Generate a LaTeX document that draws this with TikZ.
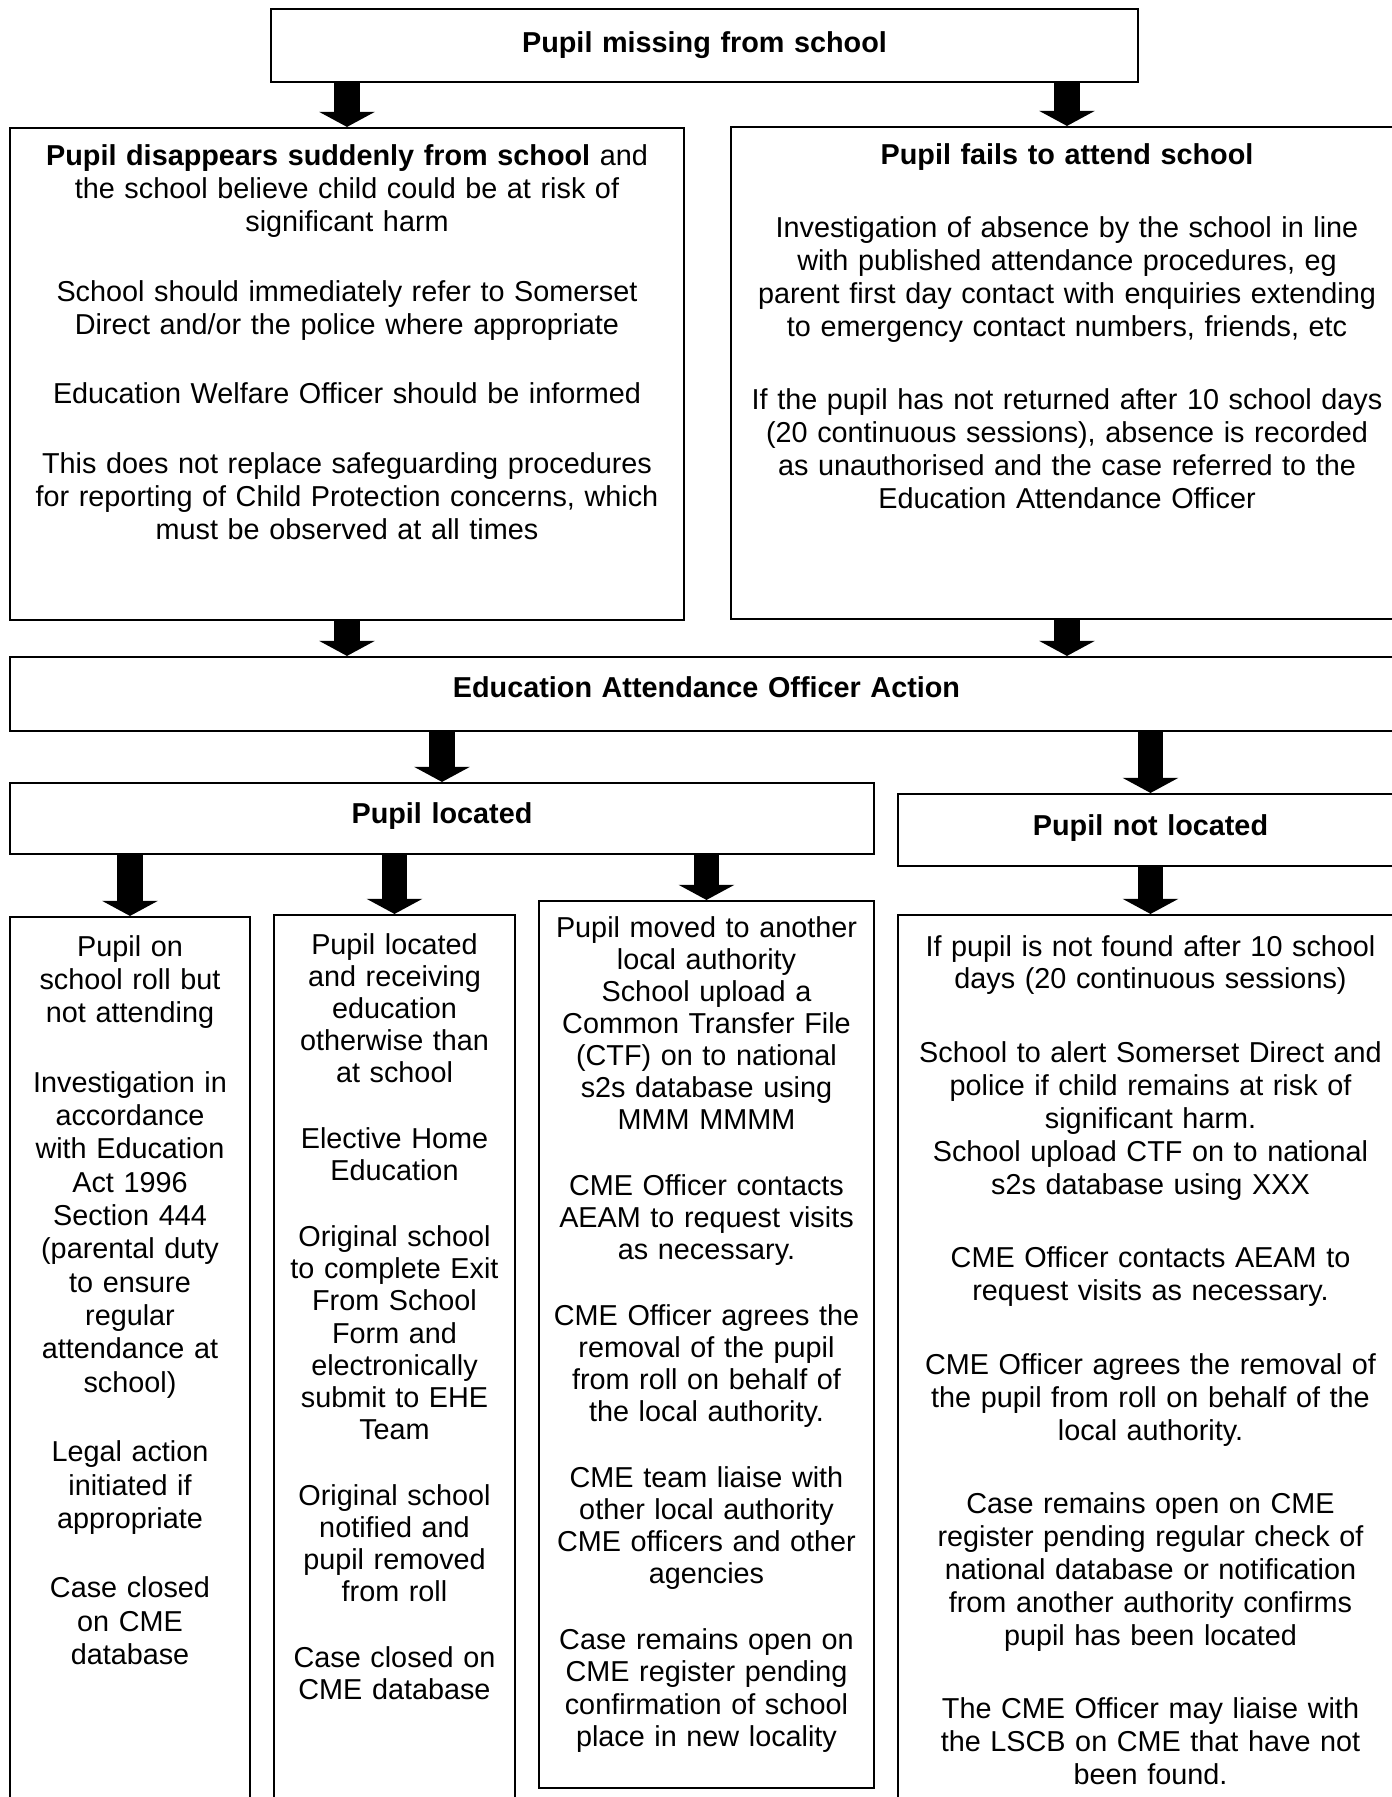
\documentclass[tikz,border=0pt]{standalone}
\usepackage{fontspec}
\setmainfont{Liberation Sans}
\usetikzlibrary{arrows.meta,fit}
\newdimen\px \px=0.4167pt
\newdimen\blankgap \blankgap=15pt
\newcommand\gapline{\\[\blankgap]}

\begin{document}
\begin{tikzpicture}[x=0.4167pt,y=-0.4167pt,
  box/.style={draw,line width=0.9pt,inner sep=0pt},
  txt/.style={anchor=base,align=center,inner sep=0pt,font=\fontsize{12pt}{13.9pt}\selectfont,/utils/exec={\blankgap=15pt}},
  tight/.style={font=\fontsize{12pt}{13.37pt}\selectfont,/utils/exec={\blankgap=14.1pt}},
  loose/.style={font=\fontsize{12pt}{13.7pt}\selectfont,/utils/exec={\blankgap=17pt}},
  bigarrow/.style={line width=10.8pt,-{Triangle[width=23.3pt,length=6.3pt,line width=0pt]}}]
\useasboundingbox (0,0) rectangle (1392,1797);
\clip (0,0) rectangle (1392,1797);

\node[box,fit={(271,9) (1138,82)}] (top) {};
\node[box,fit={(10,128) (684,620)}] (left) {};
\node[box,fit={(731,127) (1403,619)}] (right) {};
\node[box,fit={(10,657) (1403,731)}] (eao) {};
\node[box,fit={(10,783) (874,854)}] (located) {};
\node[box,fit={(898,794) (1403,866)}] (notloc) {};
\node[box,fit={(10,917) (250,1810)}] (c1) {};
\node[box,fit={(274,915) (515,1810)}] (c2) {};
\node[box,fit={(539,901) (874,1788)}] (c3) {};
\node[box,fit={(898,915) (1403,1810)}] (c4) {};

\node[txt,text width=860*\px] (toptxt) at (704.5,52) {\textbf{Pupil missing from school}};
\node[txt,text width=664*\px] (lefttxt) at (347,165) {\textbf{Pupil disappears suddenly from school} and\\
the school believe child could be at risk of\\
significant harm\gapline
School should immediately refer to Somerset\\
Direct and/or the police where appropriate\gapline
Education Welfare Officer should be informed\gapline
This does not replace safeguarding procedures\\
for reporting of Child Protection concerns, which\\
must be observed at all times};
\node[txt,loose,text width=660*\px] (righttxt) at (1067,164) {\textbf{Pupil fails to attend school}\gapline
Investigation of absence by the school in line\\
with published attendance procedures, eg\\
parent first day contact with enquiries extending\\
to emergency contact numbers, friends, etc\gapline
If the pupil has not returned after 10 school days\\
(20 continuous sessions), absence is recorded\\
as unauthorised and the case referred to the\\
Education Attendance Officer};
\node[txt,text width=1380*\px] (eaotxt) at (706.5,697) {\textbf{Education Attendance Officer Action}};
\node[txt,text width=850*\px] (locatedtxt) at (442,823) {\textbf{Pupil located}};
\node[txt,text width=490*\px] (notloctxt) at (1150.5,835) {\textbf{Pupil not located}};
\node[txt,text width=236*\px] (c1txt) at (130,956) {Pupil on\\school roll but\\not attending\gapline
Investigation in\\accordance\\with Education\\Act 1996\\Section 444\\(parental duty\\to ensure\\regular\\attendance at\\school)\gapline
Legal action\\initiated if\\appropriate\gapline
Case closed\\on CME\\database};
\node[txt,tight,text width=236*\px] (c2txt) at (394.5,954.5) {Pupil located\\and receiving\\education\\otherwise than\\at school\gapline
Elective Home\\Education\gapline
Original school\\to complete Exit\\From School\\Form and\\electronically\\submit to EHE\\Team\gapline
Original school\\notified and\\pupil removed\\from roll\gapline
Case closed on\\CME database};
\node[txt,tight,text width=330*\px] (c3txt) at (706.5,937) {Pupil moved to another\\local authority\\School upload a\\Common Transfer File\\(CTF) on to national\\s2s database using\\MMM MMMM\gapline
CME Officer contacts\\AEAM to request visits\\as necessary.\gapline
CME Officer agrees the\\removal of the pupil\\from roll on behalf of\\the local authority.\gapline
CME team liaise with\\other local authority\\CME officers and other\\agencies\gapline
Case remains open on\\CME register pending\\confirmation of school\\place in new locality};
\node[txt,loose,text width=490*\px] (c4txt) at (1150.5,956) {If pupil is not found after 10 school\\days (20 continuous sessions)\gapline
School to alert Somerset Direct and\\police if child remains at risk of\\significant harm.\\School upload CTF on to national\\s2s database using XXX\gapline
CME Officer contacts AEAM to\\request visits as necessary.\gapline
CME Officer agrees the removal of\\the pupil from roll on behalf of the\\local authority.\gapline
Case remains open on CME\\register pending regular check of\\national database or notification\\from another authority confirms\\pupil has been located\gapline
The CME Officer may liaise with\\the LSCB on CME that have not\\been found.};

\draw[bigarrow] (top.south -| left.north) -- (left.north);
\draw[bigarrow] (top.south -| right.north) -- (right.north);
\draw[bigarrow] (left.south) -- (left.south |- eao.north);
\draw[bigarrow] (right.south) -- (right.south |- eao.north);
\draw[bigarrow] (eao.south -| located.north) -- (located.north);
\draw[bigarrow] (eao.south -| notloc.north) -- (notloc.north);
\draw[bigarrow] (located.south -| c1.north) -- (c1.north);
\draw[bigarrow] (located.south -| c2.north) -- (c2.north);
\draw[bigarrow] (located.south -| c3.north) -- (c3.north);
\draw[bigarrow] (notloc.south) -- (c4.north);
\end{tikzpicture}
\end{document}
